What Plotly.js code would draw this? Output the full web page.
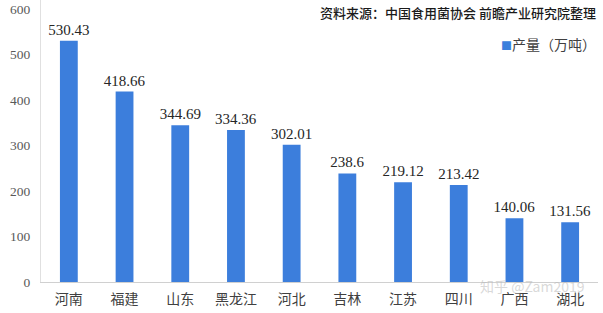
<!DOCTYPE html>
<html><head><meta charset="utf-8">
<script src="https://cdn.plot.ly/plotly-3.0.1.min.js"></script>
<style>html,body{margin:0;padding:0;background:#fff}#c{width:603px;height:313px}</style>
</head><body><div id="c"></div>
<script>
const categories = ["河南","福建","山东","黑龙江","河北","吉林","江苏","四川","广西","湖北"];
const values = [530.43, 418.66, 344.69, 334.36, 302.01, 238.6, 219.12, 213.42, 140.06, 131.56];
const valueLabels = ["530.43","418.66","344.69","334.36","302.01","238.6","219.12","213.42","140.06","131.56"];
const yTicks = [0,100,200,300,400,500,600];
const seriesName = "产量（万吨）";
const sourceText = "资料来源：中国食用菌协会 前瞻产业研究院整理";
const barColor = 'rgb(60,126,220)';

const cjk = '"Noto Sans CJK SC", sans-serif';
const serif = '"Liberation Serif", serif';
Plotly.newPlot('c', [{
  type:'bar', x:categories, y:values, name:seriesName,
  marker:{color:barColor},
  text:valueLabels, textposition:'outside', cliponaxis:false, constraintext:'none',
  textfont:{family:serif, size:15, color:'#262626'},
  showlegend:false
}], {
  width:603, height:313,
  margin:{l:41, r:5, t:0, b:31},
  paper_bgcolor:'#fff', plot_bgcolor:'#fff',
  bargap:0.68,
  xaxis:{type:'category', showgrid:false, showline:true, linecolor:'#d0d0d0', linewidth:1,
    tickfont:{family:cjk, size:14, color:'#404040'}, ticks:'', zeroline:false, ticklabelstandoff:4},
  yaxis:{range:[0,620], autorange:false, tickmode:'array', tickvals:yTicks, ticktext:yTicks.map(String),
    ticklabeloverflow:'allow',
    showgrid:false, showline:true, linecolor:'#e0e0e0',
    tickfont:{family:serif, size:13.5, color:'#595959'}, ticks:'', zeroline:false, ticklabelstandoff:7},
  annotations:[
    {text:sourceText, xref:'paper', yref:'paper', x:1, xanchor:'right', y:0.957, yanchor:'middle',
     showarrow:false, font:{family:cjk, size:13, color:'#1a1a1a', weight:500}},
    {text:"<span style='color:"+barColor+";font-size:11px'>■</span>"+seriesName, xref:'paper', yref:'paper',
     x:1, xanchor:'right', y:0.844, yanchor:'middle',
     showarrow:false, font:{family:cjk, size:14, color:'#404040'}},
    {text:"知乎 @Zam2019", xref:'paper', yref:'paper', x:0.98, xanchor:'right', y:-0.014, yanchor:'middle',
     showarrow:false, font:{family:cjk, size:14, color:'rgba(185,185,185,0.55)'}}
  ]
}, {displayModeBar:false, staticPlot:true});
</script></body></html>
